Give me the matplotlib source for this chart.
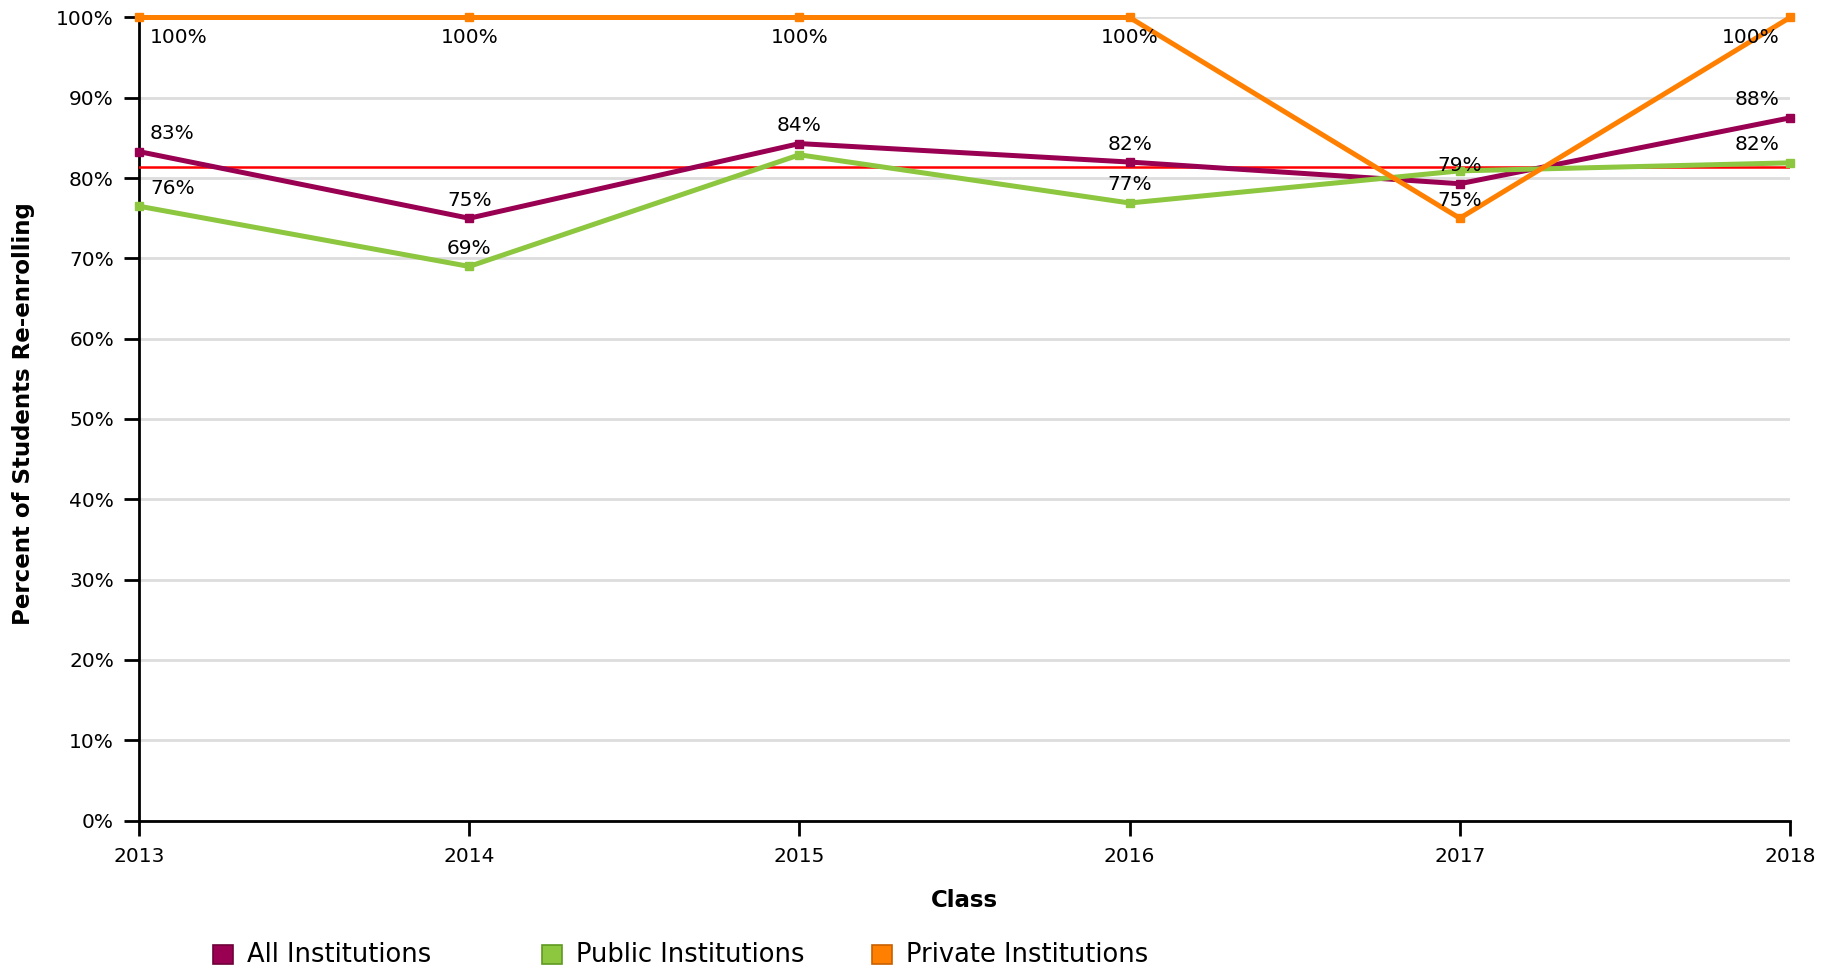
import numpy as np
import matplotlib
matplotlib.use("Agg")
import matplotlib.pyplot as plt
from matplotlib.patches import Rectangle

# === Данные ===
years = [2013, 2014, 2015, 2016, 2017, 2018]
all_inst = [83.3, 75.0, 84.3, 82.0, 79.3, 87.5]
public_inst = [76.5, 69.0, 82.9, 76.9, 80.9, 81.9]
private_inst = [100, 100, 100, 100, 75.0, 100]
average_line = 81.4

# подписи точек (None = подпись скрыта)
all_labels = ["83%", "75%", "84%", "82%", "79%", "88%"]
public_labels = ["76%", "69%", None, "77%", None, "82%"]
private_labels = ["100%", "100%", "100%", "100%", "75%", "100%"]

series_names = ["All Institutions", "Public Institutions", "Private Institutions"]
colors = ["#990052", "#8dc63f", "#ff8000"]
edge_colors = ["#6e003a", "#5f9a22", "#c86000"]

W, H = 1837, 972
fig = plt.figure(figsize=(W / 100, H / 100), dpi=100)
ax = fig.add_axes([139 / W, 1 - 820.5 / H, (1790 - 139) / W, (820.5 - 17.5) / H])

ax.set_xlim(years[0], years[-1])
ax.set_ylim(0, 100)
ax.set_yticks(np.arange(0, 101, 10))
ax.set_yticklabels([f"{v}%" for v in range(0, 101, 10)])
ax.set_xticks(years)
ax.grid(axis="y", color="#dddddd", linewidth=2)
ax.set_axisbelow(True)
for s in ["top", "right"]:
    ax.spines[s].set_visible(False)
for s in ["left", "bottom"]:
    ax.spines[s].set_linewidth(2)
ax.tick_params(axis="both", labelsize=14.5, width=2, length=11, direction="out")
ax.tick_params(axis="y", pad=7)
ax.tick_params(axis="x", pad=8)

# средняя линия
ax.plot([years[0], years[-1]], [average_line, average_line], color="#ff0000", lw=1.8, zorder=3)

data = [all_inst, public_inst, private_inst]
labels = [all_labels, public_labels, private_labels]
for vals, labs, col in zip(data, labels, colors):
    ax.plot(years, vals, color=col, lw=3.6, marker="s", markersize=6,
            zorder=4, clip_on=False)
    for i, (x, y, lab) in enumerate(zip(years, vals, labs)):
        if lab is None:
            continue
        dy = -20 if y >= 99.5 else 18
        if i == 0:
            dx, ha = 11, "left"
        elif i == len(years) - 1:
            dx, ha = -10, "right"
        else:
            dx, ha = 0, "center"
        ax.annotate(lab, (x, y), xytext=(dx, dy), textcoords="offset pixels",
                    ha=ha, va="center", fontsize=14.5, zorder=6)

fig.text(964 / W, 1 - 900 / H, "Class", ha="center", va="center",
         fontsize=16.5, fontweight="bold")
fig.text(23.5 / W, 1 - 414 / H, "Percent of Students Re-enrolling", ha="center",
         va="center", rotation=90, fontsize=16.5, fontweight="bold")

# легенда
leg_x = [213, 542, 872]
for x0, name, col, ec in zip(leg_x, series_names, colors, edge_colors):
    fig.add_artist(Rectangle((x0 / W, 1 - 964 / H), 20 / W, 19 / H,
                             transform=fig.transFigure, facecolor=col,
                             edgecolor=ec, linewidth=1.2))
    fig.text((x0 + 34) / W, 1 - 955 / H, name, ha="left", va="center",
             fontsize=18.5)

fig.savefig("out.png", dpi=100)
